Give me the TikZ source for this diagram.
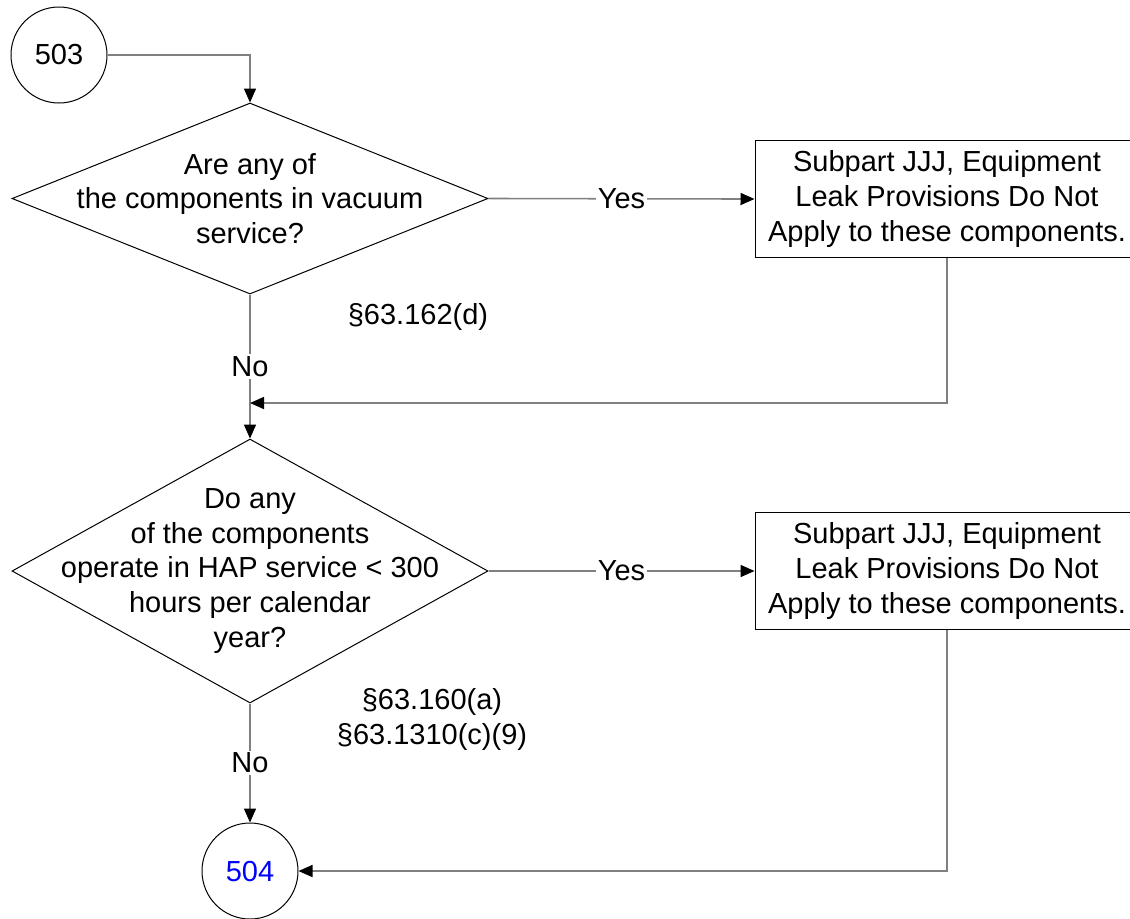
\documentclass[tikz,border=0pt]{standalone}
\usepackage{fontspec}
\setmainfont{Liberation Sans}
\usetikzlibrary{shapes.geometric,arrows.meta}

\tikzset{
  flowline/.style={draw=black!50, line width=0.8pt},
  flowarrow/.style={flowline, -{Triangle[length=7pt,width=6pt,color=black]}},
  decision/.style={diamond, draw, line width=0.5pt, inner sep=0pt, minimum width=238pt},
  outcome/.style={rectangle, draw, line width=0.5pt, align=center,
    minimum width=192pt, minimum height=58.5pt},
  offpage/.style={circle, draw, line width=0.5pt, minimum size=48pt, inner sep=0pt},
  answer/.style={fill=white, inner sep=1pt}
}

\begin{document}
\begin{tikzpicture}[x=0.5pt, y=-0.5pt, font=\fontsize{14.5}{17.4}\selectfont]
    \useasboundingbox (0,0) rectangle (1130,918);

    % Entry point
    \node[offpage] (c503) at (59,55) {503};

    % First question: vacuum service
    \node[decision, minimum height=95.5pt] (q1) at (250,198.5) {};
    \node[align=center] (q1txt) at (q1) {Are any of\\the components in vacuum\\service?};
    \node[outcome] (b1) at (947,199) {Subpart JJJ, Equipment\\Leak Provisions Do Not\\Apply to these components.};
    \node (ref1) at (418,317) {§63.162(d)};

    % Second question: HAP service hours
    \node[decision, minimum height=132pt] (q2) at (250,571) {};
    \node[align=center] (q2txt) at (q2) {Do any\\of the components\\operate in HAP service < 300\\hours per calendar\\year?};
    \node[outcome] (b2) at (947,571) {Subpart JJJ, Equipment\\Leak Provisions Do Not\\Apply to these components.};
    \node[align=center] (ref2) at (432,719.5) {§63.160(a)\\§63.1310(c)(9)};

    % Exit point
    \node[offpage, text=blue] (c504) at (250,871) {504};

    % Connectors
    \coordinate (join) at (250,403);
    \draw[flowarrow] (c503.east) -| (q1.north);
    \draw[flowarrow] (q1.east) -- node[answer] {Yes} (b1.west);
    \draw[flowarrow] (q1.south) -- node[answer] {No} (q2.north);
    \draw[flowarrow] (b1.south) |- (join);
    \draw[flowarrow] (q2.east) -- node[answer] {Yes} (b2.west);
    \draw[flowarrow] (q2.south) -- node[answer] {No} (c504.north);
    \draw[flowarrow] (b2.south) |- (c504.east);
\end{tikzpicture}
\end{document}
